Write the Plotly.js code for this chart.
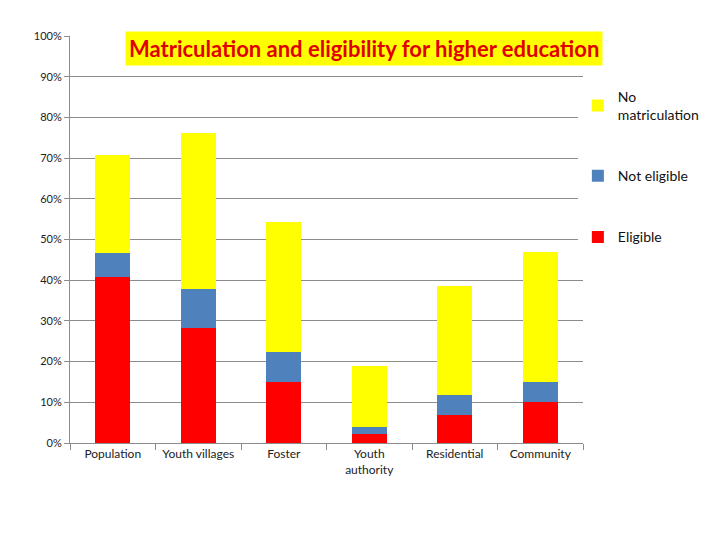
<!DOCTYPE html>
<html>
<head>
<meta charset="utf-8">
<script src="https://cdn.plot.ly/plotly-3.0.1.min.js"></script>
<style>
  body { margin: 0; background: #fff; }
  #chart { width: 720px; height: 540px; }
</style>
</head>
<body>
<div id="chart"></div>
<script>
// groups along the x axis
var groups = ["Population", "Youth villages", "Foster", "Youth<br>authority", "Residential", "Community"];

// stacked shares, in percent
var eligible      = [40.8, 28.3, 15.0, 2.3, 6.8, 10.0];
var notEligible   = [5.8, 9.5, 7.3, 1.7, 5.1, 5.0];
var noMatric      = [24.1, 38.4, 31.9, 14.8, 26.7, 31.9];

var yTicks  = [0, 10, 20, 30, 40, 50, 60, 70, 80, 90, 100];
var yLabels = ["0%", "10%", "20%", "30%", "40%", "50%", "60%", "70%", "80%", "90%", "100%"];

var font = "Lato, 'Open Sans', sans-serif";

function bar(name, vals, color, grp, rank) {
    return {
        type: 'bar',
        name: name,
        x: groups,
        y: vals,
        marker: { color: color, line: { width: 0 } },
        legendgroup: grp,
        legendrank: rank,
        hoverinfo: 'x+y+name'
    };
}

var data = [
    bar("Eligible", eligible, '#ff0000', 'c', 3),
    bar("Not eligible", notEligible, '#4f81bd', 'b', 2),
    bar("No<br>matriculation", noMatric, '#ffff00', 'a', 1)
];

var layout = {
    width: 720,
    height: 540,
    barmode: 'stack',
    bargap: 0.59,
    paper_bgcolor: '#fff',
    plot_bgcolor: '#fff',
    margin: { l: 70, r: 137, t: 36, b: 97, autoexpand: false },
    font: { family: font, size: 11, color: '#222' },
    showlegend: true,
    legend: {
        x: 0.99, xanchor: 'left',
        y: 0.89, yanchor: 'top',
        traceorder: 'grouped',
        tracegroupgap: 40,
        font: { family: font, size: 14, color: '#111' },
        itemwidth: 30
    },
    xaxis: {
        type: 'category',
        showline: true,
        linecolor: '#8c8c8c',
        ticks: 'outside',
        tickson: 'boundaries',
        ticklen: 6,
        tickcolor: '#8c8c8c',
        tickfont: { family: font, size: 12, color: '#222' },
        showgrid: false
    },
    yaxis: {
        range: [0, 100],
        tickvals: yTicks,
        ticktext: yLabels,
        showline: true,
        linecolor: '#8c8c8c',
        ticks: 'outside',
        ticklen: 5,
        tickcolor: '#8c8c8c',
        gridcolor: '#8c8c8c',
        gridwidth: 1,
        zeroline: false,
        tickfont: { family: font, size: 11, color: '#222' }
    },
    annotations: [{
        text: "<b>Matriculation and eligibility for higher education</b>",
        xref: 'paper', yref: 'paper',
        x: 0.573, y: 0.97,
        xanchor: 'center', yanchor: 'middle',
        showarrow: false,
        bgcolor: '#ffff00',
        borderpad: 3,
        font: { family: font, size: 22, color: '#e00000' }
    }]
};

Plotly.newPlot('chart', data, layout, { displayModeBar: false, staticPlot: true });
</script>
</body>
</html>
